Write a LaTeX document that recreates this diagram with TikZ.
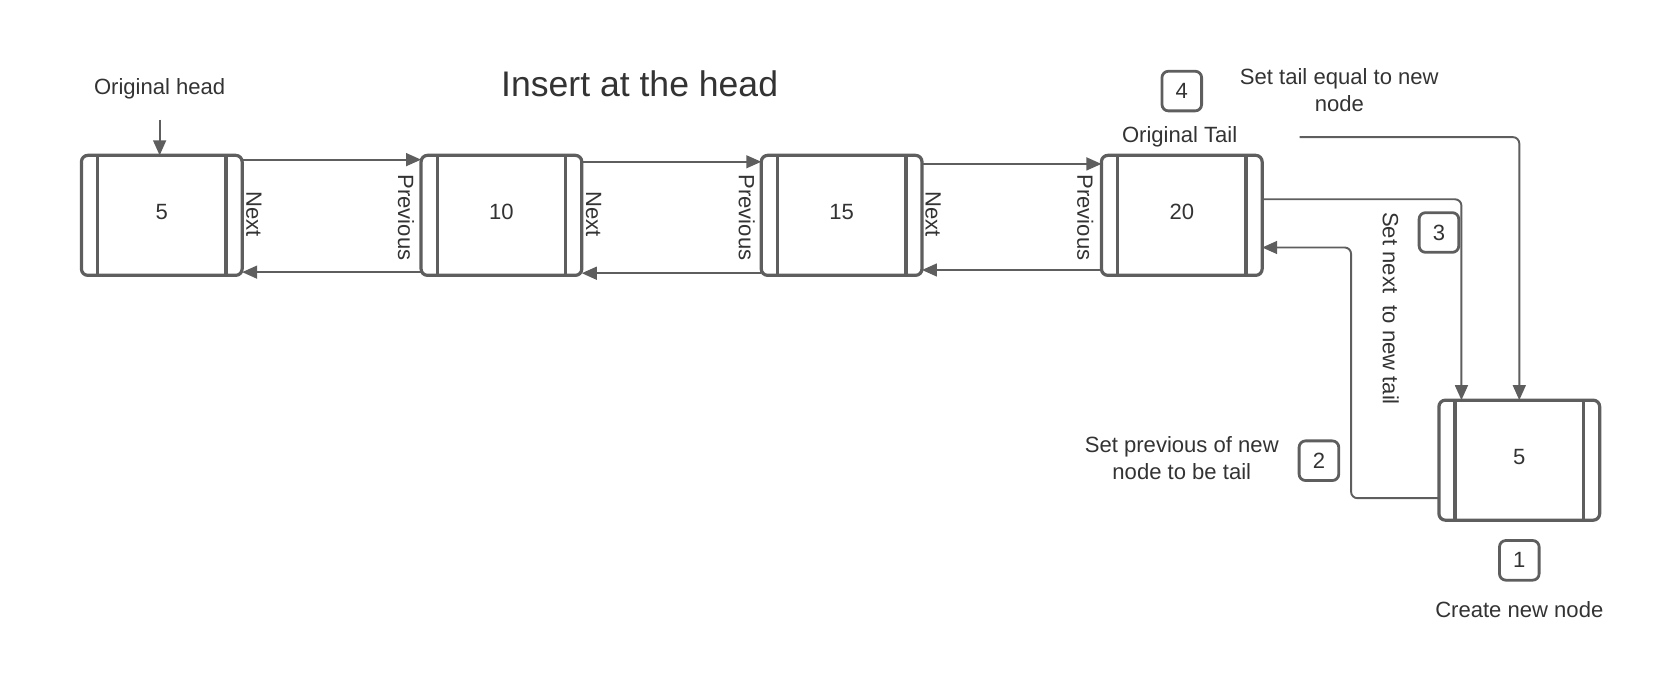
\documentclass[tikz,border=0pt]{standalone}
\usepackage{fontspec}
\setmainfont{Liberation Sans}
\usetikzlibrary{arrows.meta,calc}
\definecolor{ln}{HTML}{5E5E5E}
\definecolor{tx}{HTML}{333333}
\tikzset{
  listnode/.style={draw=ln, line width=1.5pt, rounded corners=3pt, minimum width=75pt, minimum height=56pt, outer sep=0pt, inner sep=0pt, text=tx, font=\fontsize{10.3}{12}\selectfont},
  stepbox/.style={draw=ln, line width=1.3pt, rounded corners=3pt, minimum width=18.5pt, minimum height=18.5pt, inner sep=0pt, text=tx, font=\fontsize{10.3}{12}\selectfont},
  lbl/.style={text=tx, font=\fontsize{10.3}{12.6}\selectfont, inner sep=0pt, align=center},
  vlbl/.style={lbl, rotate=-90},
  conn/.style={draw=ln, line width=0.9pt, rounded corners=3pt, -{Triangle[length=7pt,width=6pt]}},
  inner/.style={draw=ln, line width=1.5pt}
}
\newcommand{\innerlines}[1]{%
  \draw[inner] ([xshift=7.5pt]#1.north west) -- ([xshift=7.5pt]#1.south west);
  \draw[inner] ([xshift=-7.5pt]#1.north east) -- ([xshift=-7.5pt]#1.south east);}
\begin{document}
\begin{tikzpicture}[x=0.5pt,y=-0.5pt]
\useasboundingbox (0,0) rectangle (1568,635);
\node[lbl, font=\fontsize{16.6}{20}\selectfont] (title) at (597,78) {Insert at the head};
\node[lbl] (ohead) at (149,83) {Original head};
\node[listnode] (a) at (151,201) {};
\node[listnode] (b) at (468,201) {};
\node[listnode] (c) at (785.5,201) {};
\node[listnode] (d) at (1103,201) {};
\node[listnode] (e) at (1418,429.5) {};
\innerlines{a}\innerlines{b}\innerlines{c}\innerlines{d}\innerlines{e}
\node[lbl] (va) at (151,198) {5};
\node[lbl] (vb) at (468,198) {10};
\node[lbl] (vc) at (785.5,198) {15};
\node[lbl] (vd) at (1103,198) {20};
\node[lbl] (ve) at (1418,427) {5};
\coordinate (ohs) at (149,112);
\draw[conn] (ohs) -- (ohs |- a.north);
% forward / backward links
\draw[conn] ([yshift=26pt]a.east) -- ([yshift=26pt]b.west);
\draw[conn] ([yshift=-26.5pt]b.west) -- ([yshift=-26.5pt]a.east);
\draw[conn] ([yshift=25pt]b.east) -- ([yshift=25pt]c.west);
\draw[conn] ([yshift=-27pt]c.west) -- ([yshift=-27pt]b.east);
\draw[conn] ([yshift=24pt]c.east) -- ([yshift=24pt]d.west);
\draw[conn] ([yshift=-25.5pt]d.west) -- ([yshift=-25.5pt]c.east);
% labels
\node[vlbl] (n1) at (237,200) {Next};
\node[vlbl] (p1) at (379,203) {Previous};
\node[vlbl] (n2) at (554,200) {Next};
\node[vlbl] (p2) at (697,203) {Previous};
\node[vlbl] (n3) at (871,200) {Next};
\node[vlbl] (p3) at (1013,203) {Previous};
\node[lbl] (otail) at (1101,128) {Original Tail};
% steps
\node[stepbox] (s4) at (1103,85) {4};
\node[lbl] (t4) at (1250,84) {Set tail equal to new\\node};
\node[stepbox] (s3) at (1343,217) {3};
\node[vlbl] (t3) at (1298,288) {Set next~ to new tail};
\node[stepbox] (s2) at (1231,430) {2};
\node[lbl] (t2) at (1103,428) {Set previous of new\\node to be tail};
\node[stepbox] (s1) at (1418,523) {1};
\node[lbl] (t1) at (1418,569) {Create new node};
% step connectors
\coordinate (tstart) at (1213,128);
\draw[conn] (tstart) -| (e.north);
\draw[conn] ([yshift=7.5pt]d.east) -| ([xshift=-27pt]e.north);
\draw[conn] ([yshift=-17.75pt]e.west) -- ++(-82,0) |- ([yshift=-15pt]d.east);
\end{tikzpicture}
\end{document}
